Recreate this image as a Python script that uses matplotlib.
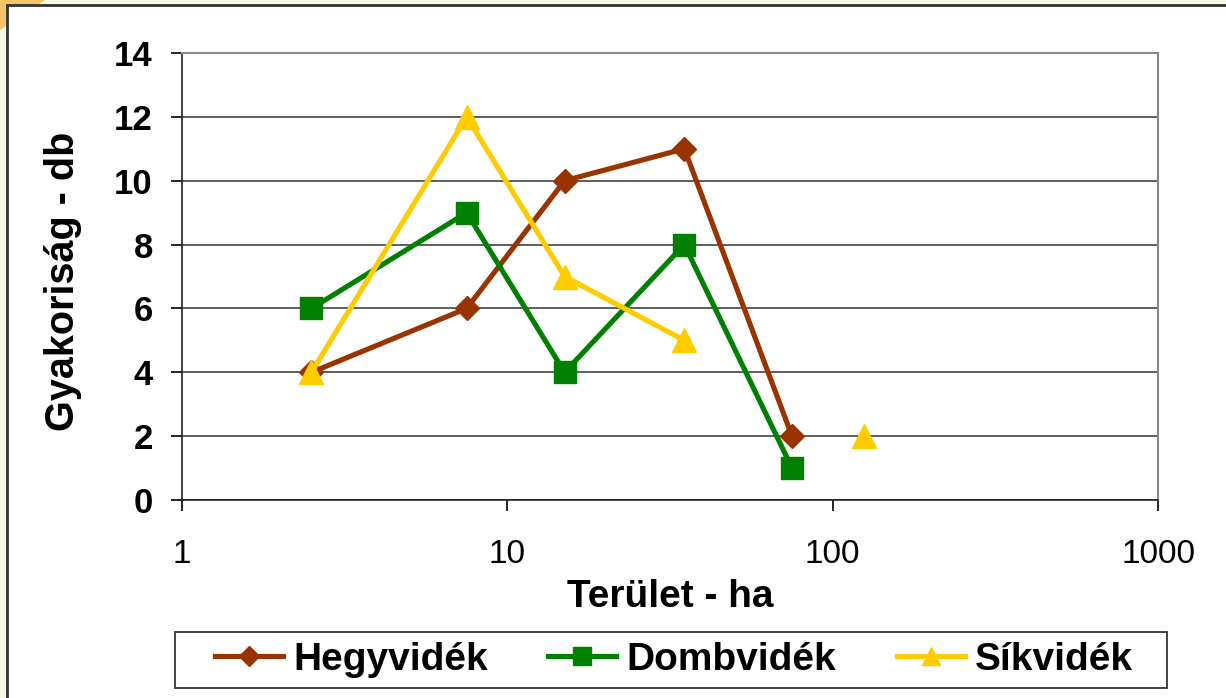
import numpy as np
import matplotlib
matplotlib.use("Agg")
import matplotlib.pyplot as plt
from matplotlib.patches import Rectangle, Polygon

plt.rcParams['font.family'] = ['Liberation Sans', 'DejaVu Sans']

area = [2.5, 7.5, 15, 35, 75, 125]
hegyvidek = [4, 6, 10, 11, 2, np.nan]
dombvidek = [6, 9, 4, 8, 1, np.nan]
sikvidek = [4, 12, 7, 5, np.nan, 2]
yticks = [0, 2, 4, 6, 8, 10, 12, 14]
xticks = [1, 10, 100, 1000]

W, H = 1226, 698
fig = plt.figure(figsize=(W / 100, H / 100), dpi=100)
fig.patch.set_facecolor('#F8F8E6')

# corner orange glow
fig.patches.append(Polygon([(0, 1), (45 / W, 1), (0, 1 - 30 / H)], closed=True,
                           transform=fig.transFigure, facecolor='#F3C46A',
                           edgecolor='none', zorder=0))
# white frame
fig.patches.append(Rectangle((7 / W, -0.05), 1.1, 1 - 5 / H + 0.05,
                             transform=fig.transFigure, facecolor='white',
                             edgecolor='#333333', linewidth=2, zorder=1))
# legend box
fig.patches.append(Rectangle((175 / W, 1 - 688 / H), (1167 - 175) / W, 56 / H,
                             transform=fig.transFigure, facecolor='white',
                             edgecolor='#333333', linewidth=1.3, zorder=2))

ax = fig.add_axes([182 / W, 1 - 500 / H, (1158 - 182) / W, (500 - 53) / H])
ax.set_zorder(3)
ax.set_facecolor('none')
ax.set_xscale('log')
ax.set_xlim(1, 1000)
ax.set_ylim(0, 14)

lw = 3.7
ax.plot(area, hegyvidek, color='#993300', lw=lw, marker='D', ms=12.5,
        label='Hegyvidék', zorder=3, clip_on=False)
ax.plot(area, dombvidek, color='#008000', lw=lw, marker='s', ms=16,
        label='Dombvidék', zorder=3, clip_on=False)
ax.plot(area, sikvidek, color='#FFCC00', lw=lw, marker='^', ms=17,
        label='Síkvidék', zorder=4, clip_on=False)

ax.set_yticks(yticks)
ax.set_xticks(xticks)
ax.set_xticklabels([str(v) for v in xticks])
ax.xaxis.set_minor_locator(matplotlib.ticker.NullLocator())
ax.grid(axis='y', color='#333333', lw=1.1)
ax.set_axisbelow(True)
for side in ['top', 'right']:
    ax.spines[side].set_color('#888888')
    ax.spines[side].set_linewidth(1.5)
for side in ['left', 'bottom']:
    ax.spines[side].set_color('#222222')
    ax.spines[side].set_linewidth(1.2)
ax.tick_params(axis='y', length=8, width=1.2, labelsize=25, pad=13)
ax.tick_params(axis='x', length=8, width=1.2, labelsize=24, pad=20)
for t in ax.get_yticklabels():
    t.set_fontweight('bold')

ax.set_xlabel('Terület - ha', fontsize=28, fontweight='bold', va='center')
ax.xaxis.set_label_coords(0.5, (500 - 597) / 447)
ax.set_ylabel('Gyakoriság - db', fontsize=28.5, fontweight='bold', va='center')
ax.yaxis.set_label_coords((63 - 182) / 976, (500 - 281) / 447)

leg = fig.legend(loc='center', bbox_to_anchor=(674 / W, 1 - 660 / H), ncol=3,
                 prop={'weight': 'bold', 'size': 28},
                 frameon=False, markerscale=0.8,
                 handlelength=1.75, columnspacing=1.55, handletextpad=0.26,
                 borderpad=0.1)
leg.set_zorder(5)

fig.savefig('out.png', dpi=100, facecolor=fig.get_facecolor())
